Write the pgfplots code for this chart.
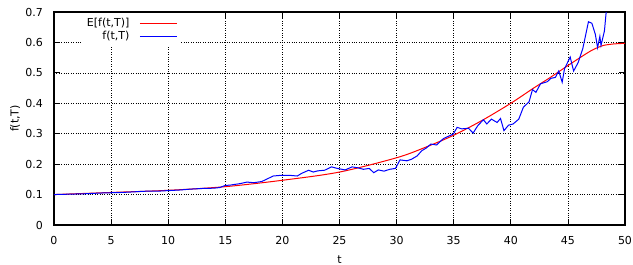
\documentclass[border=0pt]{standalone}
\usepackage{pgfplots}
\pgfplotsset{compat=1.18}
\usepackage{fontspec}
\setmainfont{DejaVu Sans}
\begin{document}
\fontsize{11}{13}\selectfont
\begin{tikzpicture}
\path[use as bounding box] (-54pt,-40pt) rectangle (579pt,225pt);
\begin{axis}[
  at={(0,0)}, anchor=south west,
  scale only axis, width=571pt, height=213pt,
  xmin=0, xmax=50, ymin=0, ymax=0.7,
  xtick={0,5,...,50}, ytick={0,0.1,0.2,0.3,0.4,0.5,0.6,0.7},
  yticklabel style={/pgf/number format/fixed, /pgf/number format/precision=1},
  /pgf/number format/assume math mode=true,
  xticklabel style={inner sep=0pt, yshift=-11.5pt},
  yticklabel style={inner sep=0pt, xshift=-11pt},
  major tick length=6pt,
  tick style={black, line width=0.8pt},
  axis line style={black, line width=1.2pt},
  grid=major, major grid style={black, dotted, line width=0.7pt},
  xlabel={t}, ylabel={f(t,T)},
  xlabel style={at={(axis description cs:0.5,-0.164)}, anchor=center},
  ylabel style={at={(axis description cs:-0.068,0.5)}, anchor=center},
  legend style={at={(0.222,0.995)}, anchor=north east, draw=none, fill=white,
    inner sep=3pt, row sep=-1pt, font=\fontsize{11}{13}\selectfont},
  legend cell align=right, legend plot pos=right,
]
\addplot[red, line width=1pt, smooth,
  legend image code/.code={\path (0pt,0pt); \draw[red, line width=1.2pt] (8pt,0pt) -- (45pt,0pt);}] coordinates {
(0,0.100) (5,0.107) (10,0.114) (15,0.126) (20,0.147) (25,0.174) (30,0.221)
(32.5,0.255) (35,0.295) (37.5,0.344) (40,0.400) (42,0.450) (43.5,0.486) (45,0.524)
(46.6,0.563) (47.3,0.578) (48.1,0.590) (49,0.595) (50,0.597)};
\addlegendentry{E[f(t,T)]}
\addplot[blue, line width=1pt,
  legend image code/.code={\path (0pt,0pt); \draw[blue, line width=1.2pt] (8pt,0pt) -- (45pt,0pt);}] coordinates {
(0,0.100) (1,0.101) (2,0.102) (3,0.103) (4,0.105) (5,0.106) (6,0.107) (7,0.109)
(8,0.111) (9,0.111) (10,0.113) (11,0.115) (12,0.118) (13,0.120) (14,0.121)
(14.5,0.123) (15,0.130) (15.4,0.131) (16.3,0.136) (16.9,0.141) (17.5,0.139)
(18.2,0.143) (18.7,0.152) (19.2,0.161) (19.8,0.163) (20.7,0.163) (21.3,0.161)
(21.7,0.170) (22.3,0.180) (22.7,0.174) (23.1,0.178) (23.7,0.180) (24.3,0.191)
(24.8,0.186) (25.5,0.181) (26.1,0.191) (26.6,0.188) (27.1,0.183) (27.6,0.186)
(28.0,0.172) (28.4,0.181) (28.9,0.177) (29.4,0.183) (29.9,0.186) (30.3,0.214)
(30.9,0.211) (31.3,0.216) (31.8,0.227) (32.2,0.244) (32.6,0.253) (33.0,0.266)
(33.5,0.263) (34.1,0.284) (34.5,0.291) (34.97,0.299) (35.3,0.321) (35.7,0.316)
(36.3,0.318) (36.7,0.302) (37.1,0.326) (37.6,0.346) (37.9,0.332) (38.3,0.348)
(38.8,0.337) (39.1,0.350) (39.4,0.310) (39.8,0.328) (40.2,0.332) (40.7,0.348)
(41.1,0.387) (41.6,0.405) (41.9,0.445) (42.2,0.436) (42.6,0.464) (43.2,0.471)
(43.5,0.482) (43.9,0.485) (44.2,0.506) (44.5,0.469) (44.7,0.513) (45.2,0.552)
(45.5,0.506) (45.9,0.534) (46.3,0.579) (46.8,0.668) (47.1,0.663) (47.4,0.627)
(47.6,0.583) (47.8,0.620) (47.9,0.590) (48.2,0.638) (48.5,0.760)};
\addlegendentry{f(t,T)}
\end{axis}
\end{tikzpicture}
\end{document}
